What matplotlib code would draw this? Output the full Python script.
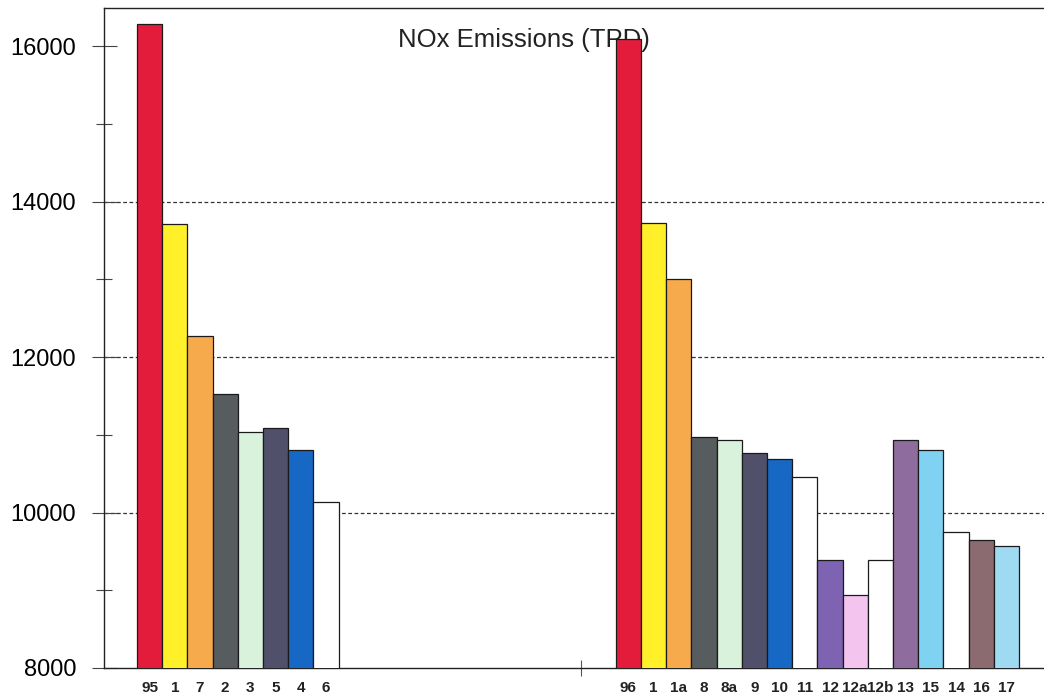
import numpy as np
import matplotlib.pyplot as plt

plt.rcParams['font.family'] = ['Liberation Sans', 'DejaVu Sans']

# scenario labels and NOx emissions (tons per day)
left_labels = ['95', '1', '7', '2', '3', '5', '4', '6']
left_values = [16280, 13710, 12270, 11530, 11035, 11085, 10805, 10140]
left_colors = ['#e41c3c', '#fff02a', '#f6aa4c', '#575c5e', '#d9f2dc',
               '#50506a', '#1767c4', '#ffffff']

right_labels = ['96', '1', '1a', '8', '8a', '9', '10', '11', '12', '12a',
                '12b', '13', '15', '14', '16', '17']
right_values = [16090, 13720, 13000, 10975, 10930, 10770, 10685, 10460,
                9390, 8940, 9390, 10930, 10810, 9755, 9645, 9575]
right_colors = ['#e41c3c', '#fff02a', '#f6aa4c', '#575c5e', '#d9f2dc',
                '#50506a', '#1767c4', '#ffffff', '#7d63b2', '#f2c4ee',
                '#ffffff', '#8f6c9e', '#80d2f2', '#ffffff', '#8b6b70',
                '#9edaf2']

gap = 11  # empty slots between the two groups

fig = plt.figure(figsize=(10.44, 7.0), dpi=100)
ax = fig.add_axes([104/1044, 32/700, 940/1044, 660/700])

x_left = np.arange(len(left_labels))
x_right = np.arange(len(right_labels)) + len(left_labels) + gap

ax.bar(x_left, left_values, width=1.0, bottom=0, color=left_colors,
       edgecolor='#1a1a1a', linewidth=0.9, zorder=3)
ax.bar(x_right, right_values, width=1.0, bottom=0, color=right_colors,
       edgecolor='#1a1a1a', linewidth=0.9, zorder=3)

ax.set_ylim(8000, 16490)
ax.set_xlim(-1.81, 35.49)

ax.set_yticks([8000, 10000, 12000, 14000, 16000])
ax.set_yticks([9000, 11000, 13000, 15000], minor=True)
ax.yaxis.grid(True, which='major', linestyle=(0, (3, 2)), color='#333333',
              linewidth=0.9, zorder=0)
for val, gl in zip(ax.get_yticks(), ax.get_ygridlines()):
    if val in (8000, 16000):
        gl.set_visible(False)
ax.tick_params(axis='y', which='major', direction='inout', length=18,
               width=0.8, color='#444444', pad=11, labelsize=17)
ax.tick_params(axis='y', which='minor', direction='inout', length=12,
               width=0.8, color='#444444')

ax.set_xticks(np.concatenate([x_left, x_right]))
ax.set_xticklabels(left_labels + right_labels, fontsize=11,
                   fontweight='bold')
ax.tick_params(axis='x', which='major', length=0, pad=9, colors='#222222')
ax.set_xticks([17.1], minor=True)
ax.tick_params(axis='x', which='minor', direction='inout', length=12,
               width=0.8, color='#555555')

ax.spines['right'].set_visible(False)
for s in ['left', 'top', 'bottom']:
    ax.spines[s].set_color('#222222')
    ax.spines[s].set_linewidth(1.0)

ax.text(0.447, 0.951, 'NOx Emissions (TPD)', transform=ax.transAxes,
        ha='center', va='center', fontsize=18.5, color='#222222', zorder=1)

fig.savefig('out.png', dpi=100)
